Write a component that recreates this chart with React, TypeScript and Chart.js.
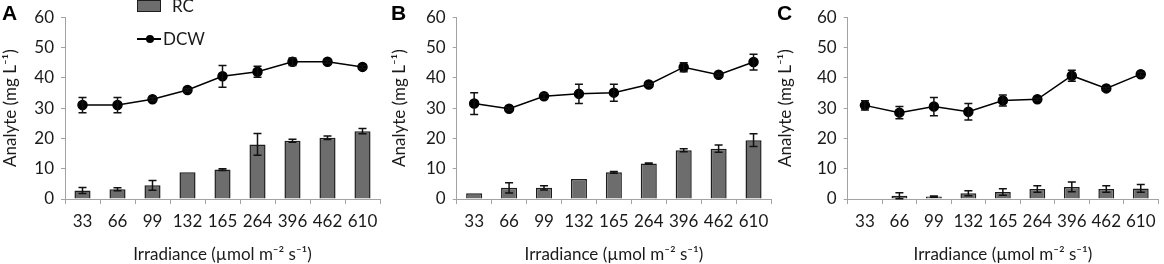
import React, { useEffect, useRef } from "react";
import Chart from "chart.js/auto";

const categories = ["33", "66", "99", "132", "165", "264", "396", "462", "610"];

const rcA = [2.8, 3.2, 4.5, 8.8, 9.7, 18.0, 19.2, 20.2, 22.4];
const rcAErr = [1.0, 0.5, 1.6, 0, 0.3, 3.6, 0.5, 0.6, 0.9];
const dcwA = [31.0, 31.0, 32.9, 36.0, 40.5, 42.0, 45.3, 45.3, 43.6];
const dcwAErr = [2.5, 2.5, 0.5, 0.4, 3.6, 1.8, 1.2, 0.5, 0.5];

const rcB = [1.9, 3.7, 3.7, 6.6, 8.8, 11.7, 16.1, 16.6, 19.4];
const rcBErr = [0, 1.7, 0.7, 0, 0.3, 0.2, 0.5, 1.2, 2.1];
const dcwB = [31.5, 29.8, 33.9, 34.7, 35.1, 37.8, 43.5, 41.0, 45.2];
const dcwBErr = [3.6, 0.4, 0.8, 3.2, 2.8, 0.4, 1.5, 0.5, 2.6];

const rcC = [0, 1.1, 0.8, 1.9, 2.3, 3.3, 4.0, 3.3, 3.5];
const rcCErr = [0, 1.0, 0.2, 0.8, 1.1, 1.1, 1.6, 1.1, 1.3];
const dcwC = [30.9, 28.5, 30.5, 28.8, 32.5, 32.9, 40.7, 36.5, 41.2];
const dcwCErr = [1.5, 2.0, 3.0, 2.7, 1.8, 0.4, 1.8, 0.4, 0.6];

const yTicks = [0, 10, 20, 30, 40, 50, 60];
const seriesNames = ["RC", "DCW"];
const xTitle = "Irradiance (µmol m⁻² s⁻¹)";
const yTitle = "Analyte (mg L⁻¹)";
const panelLetters = ["A", "B", "C"];

const FONT = "Lato, 'Open Sans', sans-serif";
const FS = 17;
const AXIS = "#a3a3a3";
const BAR = "#6d6d6d";
const BARBORDER = "#1e1e1e";
const TEXT = "#1a1a1a";

const errorBarPlugin = {
  id: "errorBars",
  afterDatasetsDraw(chart: any) {
    const ctx = chart.ctx;
    const yScale = chart.scales.y;
    chart.data.datasets.forEach((ds: any, di: number) => {
      const errs: number[] = ds.errors;
      if (!errs) return;
      const meta = chart.getDatasetMeta(di);
      meta.data.forEach((el: any, i: number) => {
        const v = ds.data[i];
        const e = errs[i];
        if (!e || v === 0) return;
        const x = el.x;
        const yTop = yScale.getPixelForValue(v + e);
        const yBot = yScale.getPixelForValue(v - e);
        ctx.save();
        ctx.strokeStyle = "#111";
        ctx.lineWidth = 1.5;
        ctx.beginPath();
        ctx.moveTo(x, yTop);
        ctx.lineTo(x, yBot);
        ctx.moveTo(x - 4, yTop);
        ctx.lineTo(x + 4, yTop);
        ctx.moveTo(x - 4, yBot);
        ctx.lineTo(x + 4, yBot);
        ctx.stroke();
        ctx.restore();
      });
    });
  },
};

type PanelProps = {
  left: number;
  width: number;
  yWidth: number;
  padRight: number;
  padTop: number;
  rc: number[];
  rcErr: number[];
  dcw: number[];
  dcwErr: number[];
};

function Panel(p: PanelProps) {
  const ref = useRef<HTMLCanvasElement>(null);
  useEffect(() => {
    if (!ref.current) return;
    const font = { family: FONT, size: FS };
    const chart = new Chart(ref.current, {
      type: "bar",
      data: {
        labels: categories,
        datasets: [
          {
            type: "line",
            label: seriesNames[1],
            data: p.dcw,
            errors: p.dcwErr,
            borderColor: "#000",
            backgroundColor: "#000",
            borderWidth: 1.5,
            pointRadius: 4.5,
            pointBackgroundColor: "#000",
            pointBorderColor: "#000",
            tension: 0,
            order: 0,
          } as any,
          {
            type: "bar",
            label: seriesNames[0],
            data: p.rc,
            errors: p.rcErr,
            backgroundColor: BAR,
            borderColor: BARBORDER,
            borderWidth: 1.5,
            barPercentage: 0.46,
            categoryPercentage: 1,
            order: 1,
          } as any,
        ],
      },
      options: {
        responsive: false,
        animation: false,
        layout: { padding: { top: p.padTop, right: p.padRight, left: 0, bottom: 0 } },
        plugins: { legend: { display: false }, tooltip: { enabled: false } },
        scales: {
          x: {
            offset: true,
            grid: {
              display: true,
              offset: true,
              drawOnChartArea: false,
              drawTicks: true,
              tickLength: 5,
              color: AXIS,
            },
            border: { color: AXIS, width: 1 },
            ticks: { color: TEXT, font, padding: 7, maxRotation: 0, autoSkip: false },
            title: {
              display: true,
              text: xTitle,
              color: TEXT,
              font,
              padding: { top: 0, bottom: -1 },
            },
            afterFit: (s: any) => {
              s.height = 65;
            },
          },
          y: {
            min: yTicks[0],
            max: yTicks[yTicks.length - 1],
            afterBuildTicks: (s: any) => {
              s.ticks = yTicks.map((v) => ({ value: v }));
            },
            grid: {
              drawOnChartArea: false,
              drawTicks: true,
              tickLength: 4,
              color: AXIS,
            },
            border: { color: AXIS, width: 1 },
            ticks: { color: TEXT, font, padding: 7 },
            title: {
              display: true,
              text: yTitle,
              color: TEXT,
              font,
              padding: { top: 0, bottom: 0 },
            },
            afterFit: (s: any) => {
              s.width = p.yWidth;
            },
          },
        },
      } as any,
      plugins: [errorBarPlugin],
    });
    return () => chart.destroy();
  }, []);
  return (
    <canvas
      ref={ref}
      width={p.width}
      height={264}
      style={{ position: "absolute", left: p.left, top: 0, display: "block" }}
    />
  );
}

const letterStyle = (left: number): React.CSSProperties => ({
  position: "absolute",
  left,
  top: 1,
  fontFamily: "'Liberation Sans', Arial, sans-serif",
  fontWeight: "bold",
  fontSize: 21,
  lineHeight: "24px",
  color: "#000",
});

export default function App() {
  return (
    <div
      style={{
        position: "absolute",
        left: 0,
        top: 0,
        width: 1164,
        height: 264,
        background: "#fff",
        overflow: "hidden",
      }}
    >
      <Panel left={0} width={386} yWidth={65} padRight={6} padTop={12.3} rc={rcA} rcErr={rcAErr} dcw={dcwA} dcwErr={dcwAErr} />
      <Panel left={389} width={388} yWidth={67.7} padRight={6} padTop={14} rc={rcB} rcErr={rcBErr} dcw={dcwB} dcwErr={dcwBErr} />
      <Panel left={775} width={389} yWidth={72.7} padRight={2.3} padTop={12.3} rc={rcC} rcErr={rcCErr} dcw={dcwC} dcwErr={dcwCErr} />

      <div style={letterStyle(2)}>{panelLetters[0]}</div>
      <div style={letterStyle(391)}>{panelLetters[1]}</div>
      <div style={letterStyle(777)}>{panelLetters[2]}</div>

      {/* legend in panel A */}
      <div
        style={{
          position: "absolute",
          left: 137,
          top: 0,
          width: 24,
          height: 12,
          boxSizing: "border-box",
          background: BAR,
          border: `1.5px solid ${BARBORDER}`,
        }}
      />
      <div
        style={{
          position: "absolute",
          left: 172,
          top: -4,
          fontFamily: FONT,
          fontSize: FS,
          lineHeight: "20px",
          color: TEXT,
        }}
      >
        {seriesNames[0]}
      </div>
      <div style={{ position: "absolute", left: 137, top: 38, width: 24, height: 1.5, background: "#000" }} />
      <div
        style={{
          position: "absolute",
          left: 146,
          top: 35,
          width: 8,
          height: 8,
          borderRadius: 4,
          background: "#000",
        }}
      />
      <div
        style={{
          position: "absolute",
          left: 163,
          top: 29,
          fontFamily: FONT,
          fontSize: FS,
          lineHeight: "20px",
          color: TEXT,
        }}
      >
        {seriesNames[1]}
      </div>
    </div>
  );
}
